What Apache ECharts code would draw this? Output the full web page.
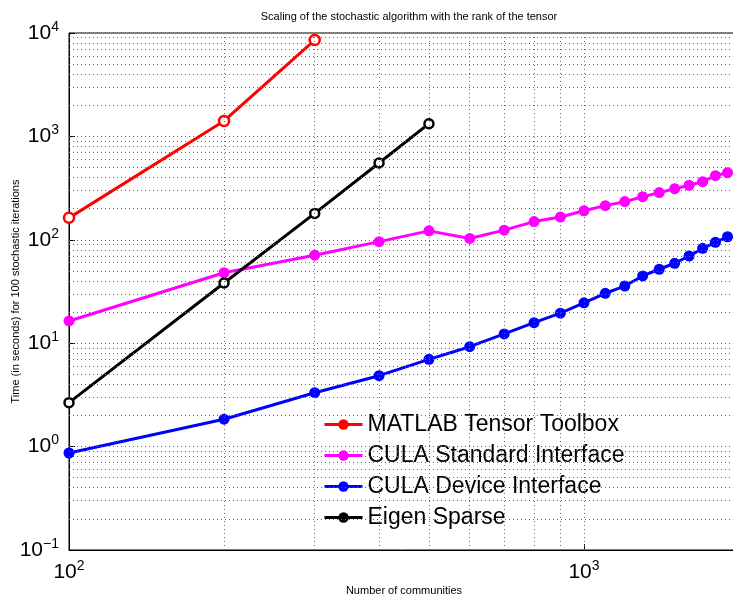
<!DOCTYPE html>
<html style="height: 100%">
<head>
<meta charset="utf-8">
<script src="https://cdn.jsdelivr.net/npm/echarts@6/dist/echarts.min.js"></script>
</head>
<body style="height: 100%; margin: 0; background: #fff">
<div id="container" style="width: 733px; height: 596px"></div>
<script type="text/javascript">
// x values (number of communities)
var xMatlab = [100, 200, 300];
var xEigen = [100, 200, 300, 400, 500];
var xCula = [100, 200, 300, 400, 500, 600, 700, 800, 900, 1000, 1100, 1200, 1300, 1400, 1500, 1600, 1700, 1800, 1900];

// time in seconds for 100 stochastic iterations
var matlabTimes = [163, 1410, 8550];
var culaStdTimes = [16.4, 48, 71, 96, 122, 103, 124, 150, 166, 191, 214, 234, 261, 286, 312, 337, 365, 417, 446];
var culaDevTimes = [0.867, 1.84, 3.32, 4.85, 6.98, 9.25, 12.3, 15.8, 19.5, 24.6, 30.4, 35.7, 44.7, 51.9, 59.3, 69.7, 82.7, 94.6, 107];
var eigenTimes = [2.66, 38.2, 180, 553, 1327];

var seriesNames = ['MATLAB Tensor Toolbox', 'CULA Standard Interface', 'CULA Device Interface', 'Eigen Sparse'];
var seriesColors = ['#ff0000', '#ff00ff', '#0000ff', '#000000'];

// dotted grid positions (MATLAB style grid + minor grid)
var xGridLines = [200, 300, 400, 500, 600, 700, 800, 900, 1000, 2000];
var yGridLines = [0.2, 0.3, 0.4, 0.5, 0.6, 0.7, 0.8, 0.9, 1,
  2, 3, 4, 5, 6, 7, 8, 9, 10,
  20, 30, 40, 50, 60, 70, 80, 90, 100,
  200, 300, 400, 500, 600, 700, 800, 900, 1000,
  2000, 3000, 4000, 5000, 6000, 7000, 8000, 9000];

function zip(xs, ys) {
  return xs.map(function (x, i) { return [x, ys[i]]; });
}

function powLabel(v) {
  var e = Math.round(Math.log10(v));
  if (Math.abs(v - Math.pow(10, e)) > 1e-6 * v) return '';
  var s = e < 0 ? '\u2212' + (-e) : '' + e;
  return '{b|10}{s|' + s + '}';
}

var richPow = {
  b: { fontSize: 21, fontFamily: 'Liberation Sans', color: '#000', lineHeight: 26 },
  s: { fontSize: 14, fontFamily: 'Liberation Sans', color: '#000', lineHeight: 14, verticalAlign: 'top' }
};

var dom = document.getElementById('container');
var myChart = echarts.init(dom);

var gridData = xGridLines.map(function (v) { return { xAxis: v }; })
  .concat(yGridLines.map(function (v) { return { yAxis: v }; }));

function lineSeries(i, xs, ys, hollow, size) {
  return {
    name: seriesNames[i],
    type: 'line',
    data: zip(xs, ys),
    z: 3,
    symbol: 'circle',
    symbolSize: size,
    showAllSymbol: true,
    lineStyle: { color: seriesColors[i], width: 3 },
    itemStyle: {
      color: hollow ? '#fff' : seriesColors[i],
      borderColor: seriesColors[i],
      borderWidth: hollow ? 2.5 : 0
    },
    animation: false
  };
}

option = {
  backgroundColor: '#ffffff',
  textStyle: { fontFamily: 'Liberation Sans' },
  title: {
    text: 'Scaling of the stochastic algorithm with the rank of the tensor',
    left: 404,
    textAlign: 'center',
    top: 6,
    textStyle: { fontSize: 11, fontWeight: 'normal', color: '#000', fontFamily: 'Liberation Sans' }
  },
  grid: {
    left: 69, top: 33, right: -6, bottom: 46,
    outerBoundsMode: 'none',
    containLabel: false,
    show: true, borderColor: '#000', borderWidth: 1, backgroundColor: 'transparent'
  },
  legend: {
    orient: 'vertical',
    left: 323,
    top: 413,
    padding: 0,
    itemWidth: 38,
    itemHeight: 13,
    itemGap: 8,
    textStyle: { fontSize: 23, color: '#000', fontFamily: 'Liberation Sans' },
    data: seriesNames.map(function (n, i) {
      return {
        name: n,
        itemStyle: { color: seriesColors[i], borderColor: seriesColors[i], borderWidth: 0 },
        lineStyle: { width: 3 }
      };
    })
  },
  xAxis: {
    type: 'log',
    logBase: 10,
    min: 100,
    max: 2000,
    name: 'Number of communities',
    nameLocation: 'middle',
    nameGap: 35,
    nameMoveOverlap: false,
    nameTextStyle: { fontSize: 11, color: '#000' },
    axisLine: { lineStyle: { color: '#000', width: 1 } },
    axisTick: { inside: true, length: 6, lineStyle: { color: '#000' } },
    axisLabel: { formatter: powLabel, rich: richPow, margin: 9, showMaxLabel: false },
    splitLine: { show: false }
  },
  yAxis: {
    type: 'log',
    logBase: 10,
    min: 0.1,
    max: 10000,
    name: 'Time (in seconds) for 100 stochastic iterations',
    nameLocation: 'middle',
    nameGap: 48,
    nameMoveOverlap: false,
    nameTextStyle: { fontSize: 11, color: '#000' },
    axisLine: { lineStyle: { color: '#000', width: 1 } },
    axisTick: { inside: true, length: 6, lineStyle: { color: '#000' } },
    axisLabel: { formatter: powLabel, rich: richPow, margin: 10 },
    splitLine: { show: false }
  },
  series: [
    {
      name: 'grid',
      type: 'line',
      data: [],
      z: 1,
      silent: true,
      animation: false,
      markLine: {
        silent: true,
        animation: false,
        symbol: ['none', 'none'],
        label: { show: false },
        lineStyle: { color: '#666', width: 1, type: [1, 3] },
        data: gridData
      }
    },
    lineSeries(0, xMatlab, matlabTimes, true, 10),
    lineSeries(1, xCula, culaStdTimes, false, 11),
    lineSeries(2, xCula, culaDevTimes, false, 11),
    lineSeries(3, xEigen, eigenTimes, true, 9)
  ]
};

if (option && typeof option === 'object') {
  myChart.setOption(option, true);
}
</script>
</body>
</html>
